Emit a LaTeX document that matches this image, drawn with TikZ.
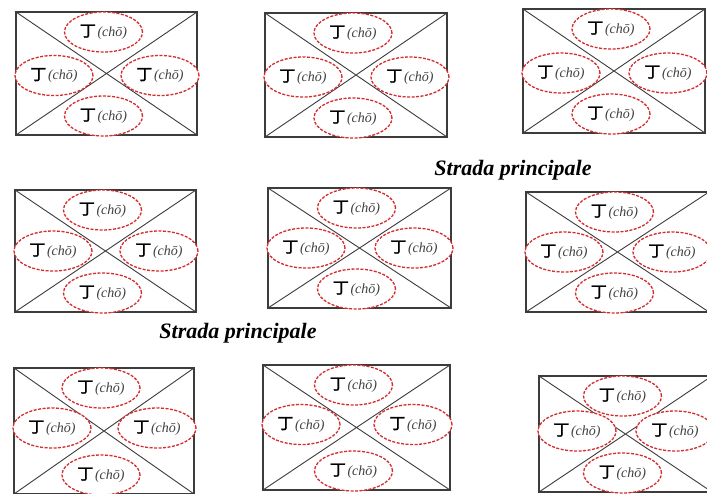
\documentclass[tikz,border=0pt]{standalone}
\usepackage{fontspec}
\setmainfont{Liberation Serif}
\newfontfamily\jpfont[FakeBold=1.6]{Noto Sans CJK JP}
\usetikzlibrary{shapes.geometric}
\definecolor{lotred}{RGB}{212,45,45}
\definecolor{edgegray}{RGB}{60,60,60}
\tikzset{
  edge/.style={draw=edgegray, line width=1.8pt},
  cross/.style={draw=edgegray, line width=0.9pt},
  cho/.style={ellipse, draw=lotred, fill=white, line width=1.3pt,
    dash pattern=on 3pt off 1.5pt, minimum width=78pt, minimum height=40pt,
    inner sep=0pt},
  street/.style={font=\fontsize{22}{22}\selectfont\bfseries\itshape}
}
\newcommand\chotext{{\jpfont\fontsize{16}{16}\selectfont 丁}\,{\color{black!75}\fontsize{14}{14}\selectfont\itshape(chō)}}
\newcommand\lotto[6]{% name, left, top, right, bottom, shift of the side lots
  \draw[edge] (#2,#3) rectangle (#4,#5);
  \draw[cross] (#2,#3) -- (#4,#5) (#2,#5) -- (#4,#3);
  \node[cho] (#1-n) at ({(#2+#4)/2-3},{#3+20}) {\chotext};
  \node[cho] (#1-s) at ({(#2+#4)/2-3},{#5-19}) {\chotext};
  \node[cho] (#1-w) at ({#2+38},{(#3+#5)/2+#6}) {\chotext};
  \node[cho] (#1-e) at ({#4-37},{(#3+#5)/2+#6}) {\chotext};
}

\begin{document}
\begin{tikzpicture}[x=1pt,y=-1pt]
\fill[white] (0,0) rectangle (707,493);
\useasboundingbox (0,0) rectangle (707,493);
\clip (0,0) rectangle (707,493);
% first row
\lotto{a1}{16}{12}{197}{135}{2}
\lotto{a2}{265}{13}{447}{137}{2}
\lotto{a3}{523}{9}{705}{133}{2}
\node[street] (via1) at (513,170) {Strada principale};
% second row
\lotto{b1}{15}{190}{196}{312}{0}
\lotto{b2}{268}{188}{451}{308}{0}
\lotto{b3}{526}{192}{709}{312}{0}
\node[street] (via2) at (238,333) {Strada principale};
% third row
\lotto{c1}{14}{368}{194}{494}{-3}
\lotto{c2}{263}{365}{450}{490}{-3}
\lotto{c3}{539}{376}{712}{492}{-3}
\end{tikzpicture}
\end{document}
